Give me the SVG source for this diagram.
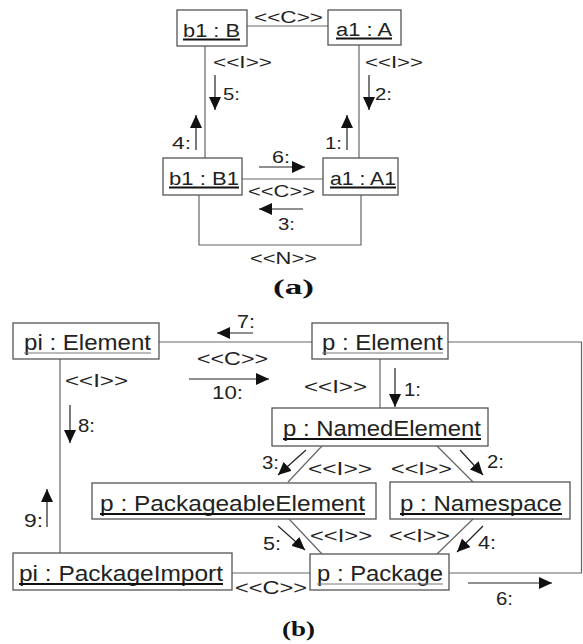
<svg xmlns="http://www.w3.org/2000/svg" width="583" height="644" viewBox="0 0 583 644">
<style>
.box{fill:#fff;stroke:#555;stroke-width:1.3}
.conn{fill:none;stroke:#666;stroke-width:1.2}
.arr{fill:none;stroke:#222;stroke-width:1.2;marker-end:url(#ah)}
.t{font-family:"Liberation Sans",Arial,sans-serif;fill:#222}
.na{font-size:18px}
.nb{font-size:22px}
.la{font-size:17px}
.lb{font-size:19px}
.ul{stroke:#111;stroke-width:2.2}
.ult{stroke:#777;stroke-width:1}
.cap{font-family:"Liberation Serif","Times New Roman",serif;font-weight:bold;font-size:21px;fill:#111}
</style>
<defs>
<marker id="ah" markerUnits="userSpaceOnUse" markerWidth="14" markerHeight="12" refX="13" refY="6" orient="auto">
<path d="M0,0 L13,6 L0,12 z" fill="#111"/>
</marker>
</defs>
<rect width="583" height="644" fill="#fff"/>

<g id="connectors">
<!-- (a) -->
<line class="conn" x1="247" y1="26" x2="328" y2="26"/>
<line class="conn" x1="205" y1="46" x2="205" y2="158"/>
<line class="conn" x1="359" y1="45" x2="359" y2="158"/>
<line class="conn" x1="242" y1="179" x2="323" y2="179"/>
<polyline class="conn" points="199,195 199,245 361,245 361,195"/>
<!-- (b) -->
<line class="conn" x1="159" y1="342" x2="312" y2="342"/>
<polyline class="conn" points="448,342 581.5,342 581.5,573 449,573"/>
<line class="conn" x1="60" y1="359" x2="60" y2="553"/>
<line class="conn" x1="380" y1="359" x2="380" y2="408"/>
<line class="conn" x1="322" y1="446" x2="288" y2="482"/>
<line class="conn" x1="437" y1="446" x2="473" y2="482"/>
<line class="conn" x1="289" y1="519" x2="322" y2="554"/>
<line class="conn" x1="473" y1="519" x2="437" y2="554"/>
<line class="conn" x1="232" y1="573" x2="310" y2="573"/>

<!-- message arrows (a) -->
<line class="arr" x1="215" y1="75" x2="215" y2="110"/>
<line class="arr" x1="369" y1="75" x2="369" y2="110"/>
<line class="arr" x1="196" y1="150" x2="196" y2="115"/>
<line class="arr" x1="347" y1="150" x2="347" y2="115"/>
<line class="arr" x1="259" y1="167" x2="305" y2="167"/>
<line class="arr" x1="303" y1="209" x2="259" y2="209"/>
<!-- message arrows (b) -->
<line class="arr" x1="253" y1="333" x2="217" y2="333"/>
<line class="arr" x1="189" y1="379" x2="269" y2="379"/>
<line class="arr" x1="70" y1="405" x2="70" y2="443"/>
<line class="arr" x1="47" y1="527" x2="47" y2="489"/>
<line class="arr" x1="395" y1="368" x2="395" y2="407"/>
<line class="arr" x1="306" y1="450" x2="278" y2="475"/>
<line class="arr" x1="460" y1="450" x2="483" y2="475"/>
<line class="arr" x1="278" y1="526" x2="305" y2="550"/>
<line class="arr" x1="483" y1="526" x2="457" y2="552"/>
<line class="arr" x1="468" y1="583" x2="552" y2="583"/>

<!-- labels (a) -->
<text class="t la" x="254" y="23" textLength="69" lengthAdjust="spacingAndGlyphs">&lt;&lt;C&gt;&gt;</text>
<text class="t la" x="213" y="68" textLength="59" lengthAdjust="spacingAndGlyphs">&lt;&lt;I&gt;&gt;</text>
<text class="t la" x="365" y="68" textLength="58" lengthAdjust="spacingAndGlyphs">&lt;&lt;I&gt;&gt;</text>
<text class="t la" x="223" y="100" textLength="17" lengthAdjust="spacingAndGlyphs">5:</text>
<text class="t la" x="375" y="100" textLength="17" lengthAdjust="spacingAndGlyphs">2:</text>
<text class="t la" x="172" y="149" textLength="19" lengthAdjust="spacingAndGlyphs">4:</text>
<text class="t la" x="325" y="149" textLength="17" lengthAdjust="spacingAndGlyphs">1:</text>
<text class="t la" x="272" y="163" textLength="18" lengthAdjust="spacingAndGlyphs">6:</text>
<text class="t la" x="248" y="197" textLength="67" lengthAdjust="spacingAndGlyphs">&lt;&lt;C&gt;&gt;</text>
<text class="t la" x="278" y="230" textLength="17" lengthAdjust="spacingAndGlyphs">3:</text>
<text class="t la" x="250" y="264" textLength="67" lengthAdjust="spacingAndGlyphs">&lt;&lt;N&gt;&gt;</text>
<text class="cap" x="273" y="294" textLength="41" lengthAdjust="spacingAndGlyphs">(a)</text>

<!-- labels (b) -->
<text class="t lb" x="237" y="328" textLength="18" lengthAdjust="spacingAndGlyphs">7:</text>
<text class="t lb" x="197" y="365" textLength="71" lengthAdjust="spacingAndGlyphs">&lt;&lt;C&gt;&gt;</text>
<text class="t lb" x="212" y="399" textLength="31" lengthAdjust="spacingAndGlyphs">10:</text>
<text class="t lb" x="65" y="387" textLength="63" lengthAdjust="spacingAndGlyphs">&lt;&lt;I&gt;&gt;</text>
<text class="t lb" x="78" y="432" textLength="17" lengthAdjust="spacingAndGlyphs">8:</text>
<text class="t lb" x="304" y="393" textLength="63" lengthAdjust="spacingAndGlyphs">&lt;&lt;I&gt;&gt;</text>
<text class="t lb" x="404" y="396" textLength="17" lengthAdjust="spacingAndGlyphs">1:</text>
<text class="t lb" x="262" y="469" textLength="17" lengthAdjust="spacingAndGlyphs">3:</text>
<text class="t lb" x="308" y="475" textLength="64" lengthAdjust="spacingAndGlyphs">&lt;&lt;I&gt;&gt;</text>
<text class="t lb" x="391" y="475" textLength="61" lengthAdjust="spacingAndGlyphs">&lt;&lt;I&gt;&gt;</text>
<text class="t lb" x="487" y="468" textLength="17" lengthAdjust="spacingAndGlyphs">2:</text>
<text class="t lb" x="263" y="550" textLength="18" lengthAdjust="spacingAndGlyphs">5:</text>
<text class="t lb" x="310" y="542" textLength="62" lengthAdjust="spacingAndGlyphs">&lt;&lt;I&gt;&gt;</text>
<text class="t lb" x="389" y="542" textLength="61" lengthAdjust="spacingAndGlyphs">&lt;&lt;I&gt;&gt;</text>
<text class="t lb" x="478" y="549" textLength="18" lengthAdjust="spacingAndGlyphs">4:</text>
<text class="t lb" x="24" y="527" textLength="19" lengthAdjust="spacingAndGlyphs">9:</text>
<text class="t lb" x="235" y="594" textLength="72" lengthAdjust="spacingAndGlyphs">&lt;&lt;C&gt;&gt;</text>
<text class="t lb" x="496" y="605" textLength="17" lengthAdjust="spacingAndGlyphs">6:</text>
<text class="cap" x="282" y="636" textLength="33" lengthAdjust="spacingAndGlyphs">(b)</text>
</g>

<!-- nodes (a) -->
<g id="b1_B">
<rect class="box" x="177" y="10" width="70" height="36"/>
<text class="t na" x="183" y="37" textLength="57" lengthAdjust="spacingAndGlyphs">b1 : B</text>
<line class="ul" x1="183" y1="39.5" x2="240" y2="39.5"/>
</g>
<g id="a1_A">
<rect class="box" x="328" y="10" width="73" height="35"/>
<text class="t na" x="336" y="36" textLength="56" lengthAdjust="spacingAndGlyphs">a1 : A</text>
<line class="ul" x1="336" y1="38.5" x2="392" y2="38.5"/>
</g>
<g id="b1_B1">
<rect class="box" x="163" y="158" width="79" height="37"/>
<text class="t na" x="169" y="185" textLength="70" lengthAdjust="spacingAndGlyphs">b1 : B1</text>
<line class="ul" x1="169" y1="187.5" x2="239" y2="187.5"/>
</g>
<g id="a1_A1">
<rect class="box" x="323" y="158" width="75" height="37"/>
<text class="t na" x="330" y="185" textLength="66" lengthAdjust="spacingAndGlyphs">a1 : A1</text>
<line class="ul" x1="330" y1="187.5" x2="396" y2="187.5"/>
</g>

<!-- nodes (b) -->
<g id="pi_Element">
<rect class="box" x="13" y="323" width="146" height="36"/>
<text class="t nb" x="24" y="350" textLength="127" lengthAdjust="spacingAndGlyphs">pi : Element</text>
<line class="ult" x1="24" y1="353" x2="151" y2="353"/>
</g>
<g id="p_Element">
<rect class="box" x="312" y="323" width="136" height="36"/>
<text class="t nb" x="322" y="350" textLength="121" lengthAdjust="spacingAndGlyphs">p : Element</text>
<line class="ult" x1="322" y1="353" x2="443" y2="353"/>
</g>
<g id="p_NamedElement">
<rect class="box" x="272" y="408" width="216" height="38"/>
<text class="t nb" x="283" y="436" textLength="198" lengthAdjust="spacingAndGlyphs">p : NamedElement</text>
<line class="ul" x1="283" y1="439" x2="481" y2="439"/>
</g>
<g id="p_PackageableElement">
<rect class="box" x="92" y="483" width="284" height="36"/>
<text class="t nb" x="100" y="511" textLength="265" lengthAdjust="spacingAndGlyphs">p : PackageableElement</text>
<line class="ul" x1="100" y1="514" x2="365" y2="514"/>
</g>
<g id="p_Namespace">
<rect class="box" x="390" y="482" width="180" height="37"/>
<text class="t nb" x="400" y="511" textLength="162" lengthAdjust="spacingAndGlyphs">p : Namespace</text>
<line class="ul" x1="400" y1="514" x2="562" y2="514"/>
</g>
<g id="pi_PackageImport">
<rect class="box" x="13" y="553" width="219" height="37"/>
<text class="t nb" x="19" y="581" textLength="204" lengthAdjust="spacingAndGlyphs">pi : PackageImport</text>
<line class="ul" x1="19" y1="584" x2="223" y2="584"/>
</g>
<g id="p_Package">
<rect class="box" x="310" y="554" width="139" height="36"/>
<text class="t nb" x="317" y="581" textLength="126" lengthAdjust="spacingAndGlyphs">p : Package</text>
<line class="ult" x1="317" y1="584" x2="443" y2="584"/>
</g>
</svg>
